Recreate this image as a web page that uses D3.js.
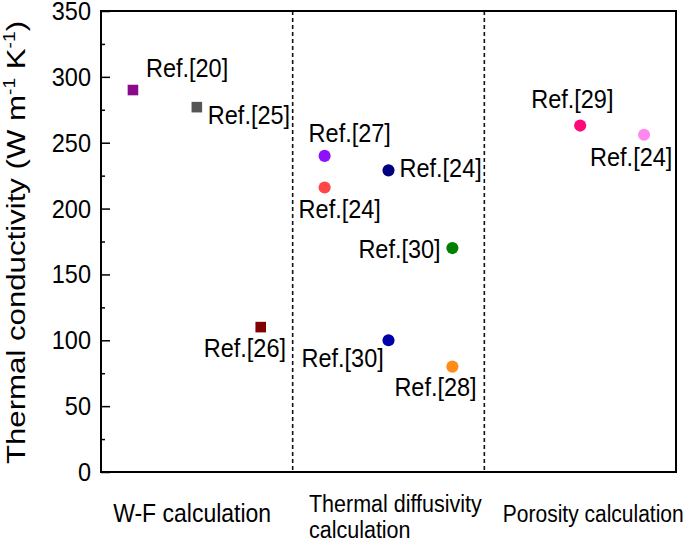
<!DOCTYPE html>
<html>
<head>
<meta charset="utf-8">
<script src="https://cdn.jsdelivr.net/npm/d3@7"></script>
<style>
  body { margin: 0; background: #fff; }
  svg { display: block; }
  text { font-family: "Liberation Sans", Arial, sans-serif; fill: #000; }
</style>
</head>
<body>
<script>
// data
var refs   = ["Ref.[20]", "Ref.[25]", "Ref.[26]", "Ref.[27]", "Ref.[24]", "Ref.[24]", "Ref.[30]", "Ref.[30]", "Ref.[28]", "Ref.[29]", "Ref.[24]"];
var xSlot  = [1, 2, 3, 4, 4, 5, 6, 5, 6, 8, 9];
var values = [290, 277, 110, 240, 216, 229, 170, 100, 80, 263, 256];
var shapes = ["square", "square", "square", "circle", "circle", "circle", "circle", "circle", "circle", "circle", "circle"];
var colors = ["#8b0a8b", "#555555", "#800000", "#8f10ff", "#ff4545", "#000080", "#008000", "#0000a8", "#ff8c1a", "#ff0a7a", "#ff88f0"];
// label offset from its marker, in px (left edge, baseline)
var labelOffsets = [[13, -13], [11, 17], [-57, 30], [-16, -14], [-26, 31], [11, 7], [-94, 10], [-87, 27], [-58, 29], [-49, -18], [-54, 31]];

var categories = [["W-F calculation"], ["Thermal diffusivity", "calculation"], ["Porosity calculation"]];
var catLeft = [0.69, 3.755, 6.79];
var catSize = [23, 21.5, 21];
var dividers = [3.5, 6.5];
var yMajor = [0, 50, 100, 150, 200, 250, 300, 350];
var yMinor = [25, 75, 125, 175, 225, 275, 325];

var w = 685, h = 542;
var margin = {top: 11, right: 9, bottom: 70, left: 101};
var stretch = 1.13; // text in the figure is drawn a little tall

var svg = d3.select("body").append("svg")
  .attr("width", w)
  .attr("height", h);

var x = d3.scaleLinear().domain([0.5, 9.5]).range([margin.left, w - margin.right]);
var y = d3.scaleLinear().domain([0, 350]).range([h - margin.bottom, margin.top]);

// dashed dividers
svg.selectAll("line.div")
  .data(dividers)
  .enter()
  .append("line")
  .attr("class", "div")
  .attr("x1", function(d) { return x(d); })
  .attr("x2", function(d) { return x(d); })
  .attr("y1", y(350))
  .attr("y2", y(0))
  .attr("stroke", "#111")
  .attr("stroke-width", 1.6)
  .attr("stroke-dasharray", "4,3");

// frame
svg.append("rect")
  .attr("x", x(0.5))
  .attr("y", y(350))
  .attr("width", x(9.5) - x(0.5))
  .attr("height", y(0) - y(350))
  .attr("fill", "none")
  .attr("stroke", "#000")
  .attr("stroke-width", 2);

// y axis, ticks inward
var yAxis = svg.append("g")
  .attr("transform", "translate(" + x(0.5) + ",0)")
  .call(d3.axisLeft(y).tickValues(yMajor).tickSize(-9).tickPadding(10));
yAxis.select(".domain").remove();
yAxis.selectAll("line").attr("stroke-width", 1.5);
yAxis.selectAll("text")
  .attr("font-size", "23.5px")
  .attr("font-family", "Liberation Sans, Arial, sans-serif")
  .attr("fill", "#000")
  .attr("transform", "scale(1," + stretch + ")");

var yMinorAxis = svg.append("g")
  .attr("transform", "translate(" + x(0.5) + ",0)")
  .call(d3.axisLeft(y).tickValues(yMinor).tickSize(-4).tickFormat(""));
yMinorAxis.select(".domain").remove();
yMinorAxis.selectAll("line").attr("stroke-width", 1.5);

// y title
var title = svg.append("text")
  .attr("transform", "translate(25," + ((y(350) + y(0)) / 2 + 1) + ") rotate(-90) scale(1.2,1)")
  .attr("text-anchor", "middle")
  .attr("font-size", "26px");
title.append("tspan").text("Thermal conductivity (W m");
title.append("tspan").attr("font-size", "16px").attr("dy", -10).text("-1");
title.append("tspan").attr("dy", 10).text(" K");
title.append("tspan").attr("font-size", "16px").attr("dy", -10).text("-1");
title.append("tspan").attr("dy", 10).text(")");

// markers
var idx = d3.range(refs.length);
svg.selectAll("path.pt")
  .data(idx)
  .enter()
  .append("path")
  .attr("class", "pt")
  .attr("transform", function(i) { return "translate(" + x(xSlot[i]) + "," + y(values[i]) + ")"; })
  .attr("d", function(i) {
    return shapes[i] === "square"
      ? d3.symbol().type(d3.symbolSquare).size(112)()
      : d3.symbol().type(d3.symbolCircle).size(115)();
  })
  .attr("fill", function(i) { return colors[i]; });

// point labels
svg.selectAll("text.lbl")
  .data(idx)
  .enter()
  .append("text")
  .attr("class", "lbl")
  .attr("transform", function(i) {
    var lx = x(xSlot[i]) + labelOffsets[i][0];
    var ly = y(values[i]) + labelOffsets[i][1];
    return "translate(" + lx + "," + ly + ") scale(1," + stretch + ")";
  })
  .attr("font-size", "23.5px")
  .text(function(i) { return refs[i]; });

// category labels under the axis
var cat = svg.selectAll("text.cat")
  .data(categories)
  .enter()
  .append("text")
  .attr("class", "cat")
  .attr("font-size", function(d, i) { return catSize[i] + "px"; })
  .attr("transform", function(d, i) {
    return "translate(" + x(catLeft[i]) + "," + (d.length > 1 ? 512 : 522) + ") scale(1," + stretch + ")";
  });
cat.selectAll("tspan")
  .data(function(d) { return d; })
  .enter()
  .append("tspan")
  .attr("x", 0)
  .attr("dy", function(d, j) { return j === 0 ? 0 : 23; })
  .text(function(d) { return d; });
</script>
</body>
</html>
